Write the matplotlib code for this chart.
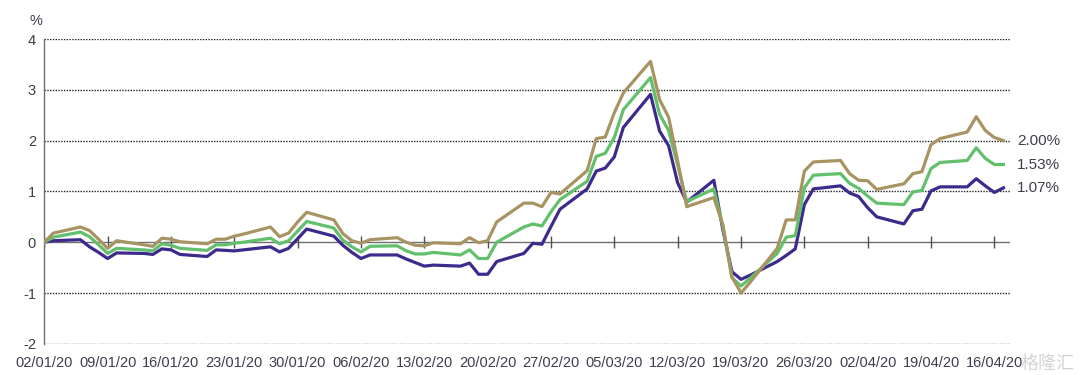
import numpy as np
import pandas as pd
import matplotlib
matplotlib.use('Agg')
import matplotlib.pyplot as plt

# business days 02/01/20 .. 17/04/20
dates = pd.bdate_range('2020-01-02', '2020-04-17')

tan = [0.00, 0.18, 0.30, 0.23, 0.06, -0.12, 0.03, -0.05, -0.08, 0.08,
       0.06, 0.01, -0.03, 0.06, 0.06, 0.12, 0.16, 0.30, 0.11, 0.18,
       0.40, 0.59, 0.44, 0.17, 0.03, -0.02, 0.05, 0.09, 0.00, -0.06,
       -0.07, -0.01, -0.03, 0.09, -0.01, 0.03, 0.40, 0.77, 0.77, 0.70,
       0.98, 0.95, 1.41, 2.04, 2.07, 2.55, 2.94, 3.56, 2.81, 2.46,
       1.60, 0.70, 0.88, 0.34, -0.68, -1.00, -0.79, -0.12, 0.44, 0.44,
       1.40, 1.58, 1.61, 1.35, 1.22, 1.21, 1.04, 1.15, 1.35, 1.39,
       1.92, 2.04, 2.17, 2.47, 2.20, 2.06, 2.00]
green = [0.00, 0.10, 0.20, 0.11, -0.05, -0.22, -0.12, -0.15, -0.17, -0.03,
         -0.06, -0.12, -0.16, -0.05, -0.05, -0.02, 0.00, 0.08, -0.03, 0.03,
         0.22, 0.41, 0.28, 0.04, -0.09, -0.19, -0.08, -0.07, -0.17, -0.23,
         -0.23, -0.20, -0.25, -0.15, -0.32, -0.32, 0.00, 0.30, 0.36, 0.32,
         0.60, 0.84, 1.20, 1.69, 1.75, 2.06, 2.61, 3.24, 2.52, 2.20,
         1.52, 0.80, 1.05, 0.31, -0.70, -0.86, -0.71, -0.22, 0.10, 0.13,
         1.07, 1.32, 1.35, 1.16, 1.06, 0.91, 0.77, 0.74, 0.99, 1.02,
         1.45, 1.57, 1.61, 1.86, 1.65, 1.53, 1.53]
purple = [0.00, 0.03, 0.05, -0.09, -0.20, -0.32, -0.21, -0.22, -0.24, -0.13,
          -0.15, -0.24, -0.28, -0.15, -0.16, -0.17, -0.15, -0.09, -0.19, -0.12,
          0.07, 0.26, 0.12, -0.06, -0.20, -0.32, -0.25, -0.25, -0.33, -0.40,
          -0.47, -0.45, -0.47, -0.41, -0.63, -0.63, -0.38, -0.22, -0.02, -0.04,
          0.31, 0.65, 1.05, 1.40, 1.46, 1.68, 2.26, 2.91, 2.19, 1.90,
          1.17, 0.79, 1.22, 0.24, -0.58, -0.73, -0.65, -0.38, -0.26, -0.13,
          0.74, 1.05, 1.11, 0.97, 0.90, 0.68, 0.50, 0.36, 0.62, 0.65,
          1.01, 1.09, 1.09, 1.25, 1.11, 0.98, 1.07]

tick_dates = pd.date_range('2020-01-02', periods=16, freq='7D')
tick_labels = ['02/01/20', '09/01/20', '16/01/20', '23/01/20', '30/01/20',
               '06/02/20', '13/02/20', '20/02/20', '27/02/20', '05/03/20',
               '12/03/20', '19/03/20', '26/03/20', '02/04/20', '19/04/20',
               '16/04/20']
yticks = [-2, -1, 0, 1, 2, 3, 4]

c_tan = '#a89462'
c_green = '#62c06c'
c_purple = '#3d2a8c'
c_text = '#3e3e4c'

plt.rcParams['font.family'] = ['Liberation Sans', 'DejaVu Sans']

fig = plt.figure(figsize=(10.8, 3.75), dpi=100)
ax = fig.add_axes([0.041, 0.083, 0.894, 0.813])

for y in yticks:
    if y != 0:
        ax.axhline(y, color='#222222', lw=1.0, ls=(0, (1, 1)), zorder=1)
ax.axhline(0, color='#707070', lw=1.0, zorder=1)
ax.plot(tick_dates, np.zeros(len(tick_dates)), ls='none', marker='|',
        ms=8, mew=1.0, color='#505050', zorder=1)

ax.plot(dates, purple, color=c_purple, lw=2.3, zorder=3)
ax.plot(dates, green, color=c_green, lw=2.3, zorder=4)
ax.plot(dates, tan, color=c_tan, lw=2.3, zorder=5)

for s, c in [(tan, c_tan), (green, c_green), (purple, c_purple)]:
    ax.annotate('{:.2f}%'.format(s[-1]), xy=(dates[-1], s[-1]),
                xytext=(10, 0), textcoords='offset points', va='center',
                ha='left', fontsize=11, color=c_text, annotation_clip=False)

ax.set_ylim(-2, 4)
ax.set_xlim(dates[0], dates[-1] + pd.Timedelta(hours=17))
ax.set_yticks(yticks)
ax.set_yticklabels([str(y) for y in yticks])
ax.set_xticks(tick_dates)
ax.set_xticklabels(tick_labels)
ax.tick_params(axis='both', length=0, labelsize=10.5, colors=c_text)
ax.tick_params(axis='x', pad=9)
ax.tick_params(axis='y', pad=6)

for side in ['top', 'right', 'bottom']:
    ax.spines[side].set_visible(False)
ax.spines['left'].set_color('#707070')
ax.spines['left'].set_linewidth(1.0)

fig.text(0.033, 0.945, '%', fontsize=10.5, color=c_text, ha='center', va='center')

# watermark
fig.text(0.995, 0.03, '格隆汇', fontsize=13, color='#d0d0d0', ha='right',
         va='center', family=['Noto Sans CJK SC', 'DejaVu Sans'], alpha=0.9)

fig.savefig('out.png', dpi=100)
plt.close(fig)
